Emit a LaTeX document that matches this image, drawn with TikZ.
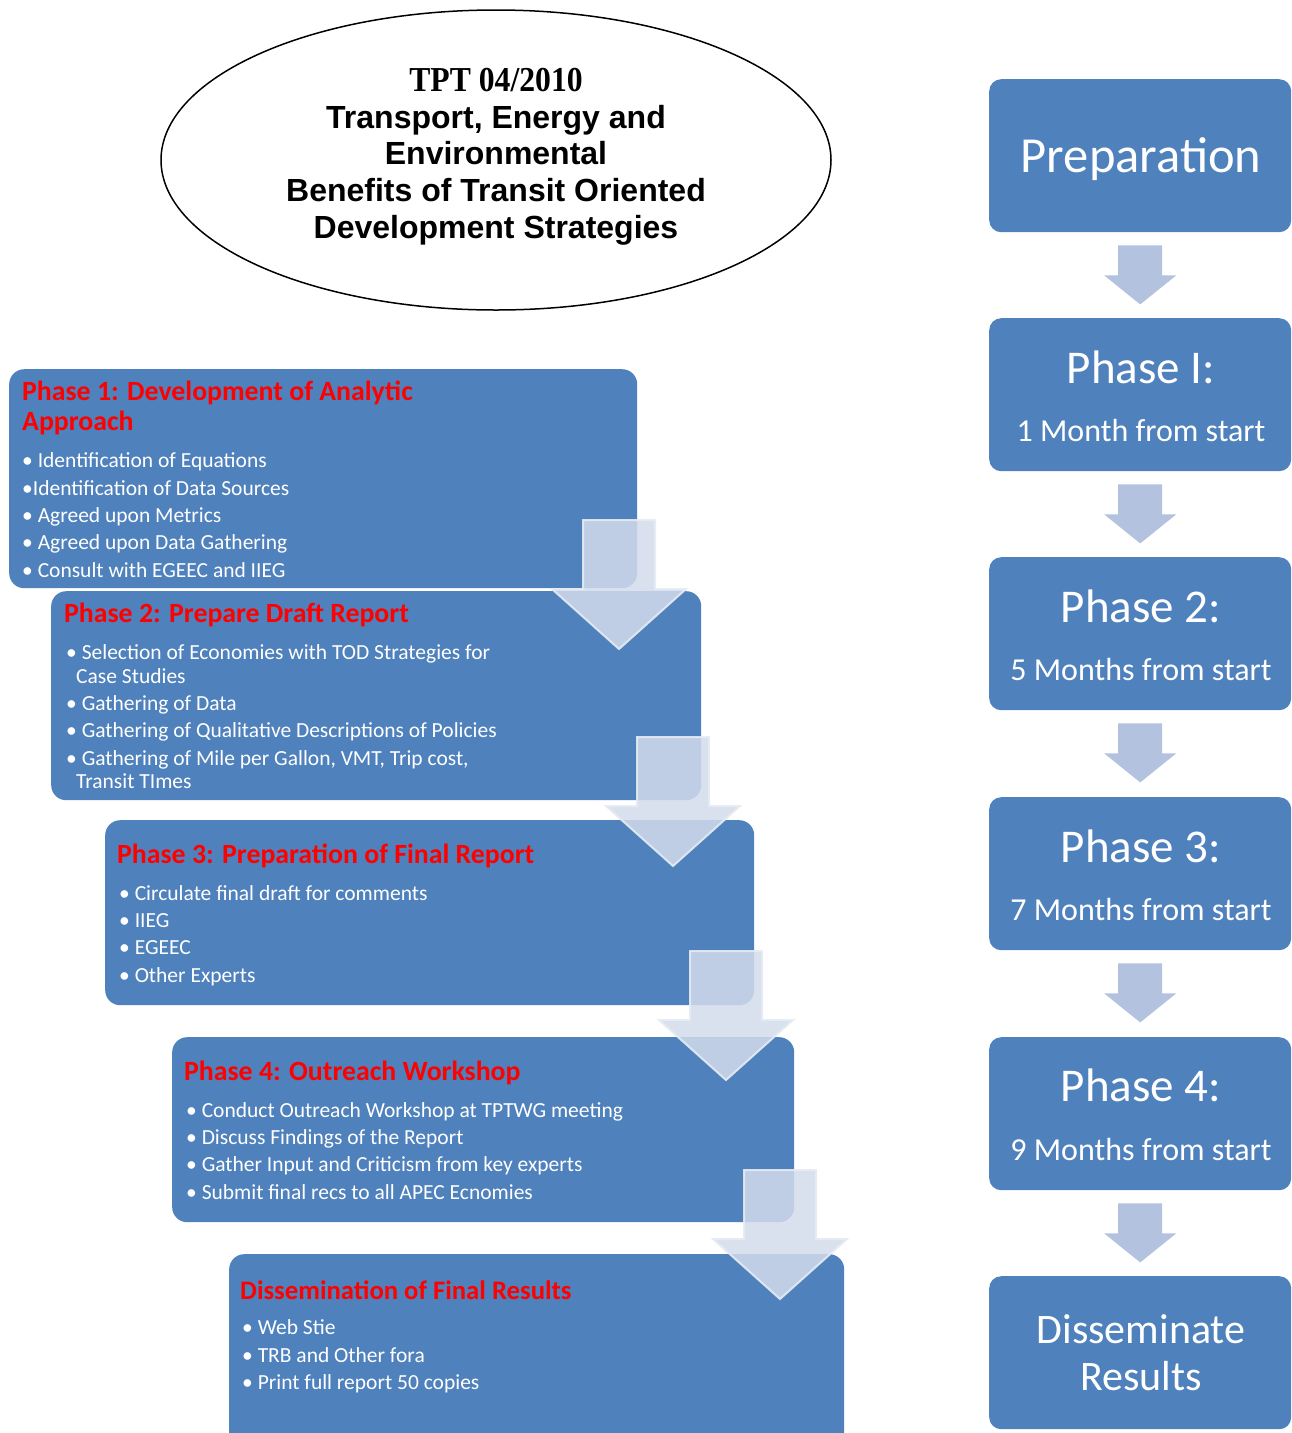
\documentclass[tikz,border=0pt]{standalone}
\usepackage{fontspec}
\setmainfont{Carlito}
\newfontfamily\arialf{Liberation Sans}
\newfontfamily\timesf{Liberation Serif}
\usetikzlibrary{shapes.geometric}
\definecolor{boxblue}{HTML}{4F81BD}
\definecolor{arrblue}{HTML}{B3C2DE}
\definecolor{ghost}{HTML}{D3DCEB}
\definecolor{ghostline}{HTML}{E6EBF3}
\newcommand\rarr[1]{\fill[rarrow] (#1) ++(-22,0) -- ++(44,0) -- ++(0,30) -- ++(14,0) -- ++(-36,29) -- ++(-36,-29) -- ++(14,0) -- cycle;}
\newcommand\garr[1]{\filldraw[garrow] (#1) ++(-36,0) -- ++(72,0) -- ++(0,69) -- ++(31,0) -- ++(-67,60) -- ++(-67,-60) -- ++(31,0) -- cycle;}
\begin{document}
\begin{tikzpicture}[x=1pt,y=-1pt,
 lbox/.style={fill=boxblue, rounded corners=15pt, anchor=north west, inner sep=0pt},
 rbox/.style={fill=boxblue, rounded corners=12pt, anchor=north west, inner sep=0pt, minimum width=302pt, minimum height=153pt},
 ttl/.style={anchor=base west, inner sep=0pt, text=red, font=\fontsize{27.8}{30}\selectfont\bfseries},
 itm/.style={anchor=base west, inner sep=0pt, text=white, font=\fontsize{21.5}{27}\selectfont},
 big/.style={anchor=base, inner sep=0pt, text=white, font=\fontsize{47}{50}\selectfont},
 sml/.style={anchor=base, inner sep=0pt, text=white, font=\fontsize{32}{34}\selectfont},
 htxt/.style={anchor=base, inner sep=0pt, font=\fontsize{32}{36}\selectfont\arialf\bfseries},
 rarrow/.style={fill=arrblue, draw=none},
 garrow/.style={fill=ghost, fill opacity=0.85, draw=ghostline, draw opacity=0.9, line width=2pt, line join=miter}
]
\useasboundingbox (0,0) rectangle (1292,1433);
\clip (0,0) rectangle (1292,1433);

% title ellipse
\node[draw, ellipse, line width=1.5pt, minimum width=670pt, minimum height=300pt, inner sep=0pt] (ell) at (496,160) {};
\node[anchor=base, inner sep=0pt, font=\fontsize{35}{36}\selectfont\timesf\bfseries] (h0) at (496,91) {\scalebox{0.905}[1]{TPT 04/2010}};
\node[htxt] (h1) at (496,128) {Transport, Energy and};
\node[htxt] (h2) at (496,164) {Environmental};
\node[htxt] (h3) at (496,201) {Benefits of Transit Oriented};
\node[htxt] (h4) at (496,238) {Development Strategies};

% left boxes
\node[lbox, minimum width=628pt, minimum height=219pt] (b1) at (9,369) {};
\node[lbox, minimum width=650pt, minimum height=209pt] (b2) at (51,591) {};
\node[lbox, minimum width=649pt, minimum height=185pt] (b3) at (105,820) {};
\node[lbox, minimum width=622pt, minimum height=185pt] (b4) at (172,1037) {};
\node[lbox, minimum width=615pt, minimum height=200pt] (b5) at (229,1254) {};

% box 1 text
\node[ttl] (t1a) at (22,400) {Phase 1: Development of Analytic};
\node[ttl] (t1b) at (22,430) {Approach};
\node[itm] (i11) at (22,467) {• Identification of Equations};
\node[itm] (i12) at (22,495) {•Identification of Data Sources};
\node[itm] (i13) at (22,522) {• Agreed upon Metrics};
\node[itm] (i14) at (22,549) {• Agreed upon Data Gathering};
\node[itm] (i15) at (22,577) {• Consult with EGEEC and IIEG};

% box 2 text
\node[ttl] (t2) at (64,622) {Phase 2: Prepare Draft Report};
\node[itm] (i21) at (66,659) {• Selection of Economies with TOD Strategies for};
\node[itm] (i21b) at (76,683) {Case Studies};
\node[itm] (i22) at (66,710) {• Gathering of Data};
\node[itm] (i23) at (66,737) {• Gathering of Qualitative Descriptions of Policies};
\node[itm] (i24) at (66,765) {• Gathering of Mile per Gallon, VMT, Trip cost,};
\node[itm] (i24b) at (76,788) {Transit TImes};

% box 3 text
\node[ttl] (t3) at (117,863) {Phase 3: Preparation of Final Report};
\node[itm] (i31) at (119,900) {• Circulate final draft for comments};
\node[itm] (i32) at (119,927) {• IIEG};
\node[itm] (i33) at (119,954) {• EGEEC};
\node[itm] (i34) at (119,982) {• Other Experts};

% box 4 text
\node[ttl] (t4) at (184,1080) {Phase 4: Outreach Workshop};
\node[itm] (i41) at (186,1117) {• Conduct Outreach Workshop at TPTWG meeting};
\node[itm] (i42) at (186,1144) {• Discuss Findings of the Report};
\node[itm] (i43) at (186,1171) {• Gather Input and Criticism from key experts};
\node[itm] (i44) at (186,1199) {• Submit final recs to all APEC Ecnomies};

% box 5 text
\node[ttl, font=\fontsize{26.7}{30}\selectfont\bfseries] (t5) at (240,1299) {Dissemination of Final Results};
\node[itm] (i51) at (242,1334) {• Web Stie};
\node[itm] (i52) at (242,1362) {• TRB and Other fora};
\node[itm] (i53) at (242,1389) {• Print full report 50 copies};

% ghost arrows
\coordinate (g1) at (619,520);
\coordinate (g2) at (673,737);
\coordinate (g3) at (726,951);
\coordinate (g4) at (780,1170);
\garr{g1}
\garr{g2}
\garr{g3}
\garr{g4}

% right column
\node[rbox] (r0) at (989,79) {};
\node[rbox] (r1) at (989,318) {};
\node[rbox] (r2) at (989,557) {};
\node[rbox] (r3) at (989,797) {};
\node[rbox] (r4) at (989,1037) {};
\node[rbox] (r5) at (989,1276) {};

\node[big, font=\fontsize{50.5}{52}\selectfont] (p0) at (1141,172) {Preparation};
\node[big] (p1) at (1141,383) {Phase I:};
\node[sml] (m1) at (1141,441) {1 Month from start};
\node[big] (p2) at (1141,622) {Phase 2:};
\node[sml] (m2) at (1141,680) {5 Months from start};
\node[big] (p3) at (1141,862) {Phase 3:};
\node[sml] (m3) at (1141,920) {7 Months from start};
\node[big] (p4) at (1141,1101) {Phase 4:};
\node[sml] (m4) at (1141,1160) {9 Months from start};
\node[big, font=\fontsize{42}{47}\selectfont] (p5a) at (1141,1343) {Disseminate};
\node[big, font=\fontsize{42}{47}\selectfont] (p5b) at (1141,1390) {Results};

\coordinate (ra1) at ([yshift=-13pt]r0.south);
\coordinate (ra2) at ([yshift=-13pt]r1.south);
\coordinate (ra3) at ([yshift=-13pt]r2.south);
\coordinate (ra4) at ([yshift=-13pt]r3.south);
\coordinate (ra5) at ([yshift=-13pt]r4.south);
\rarr{ra1}
\rarr{ra2}
\rarr{ra3}
\rarr{ra4}
\rarr{ra5}
\end{tikzpicture}
\end{document}
